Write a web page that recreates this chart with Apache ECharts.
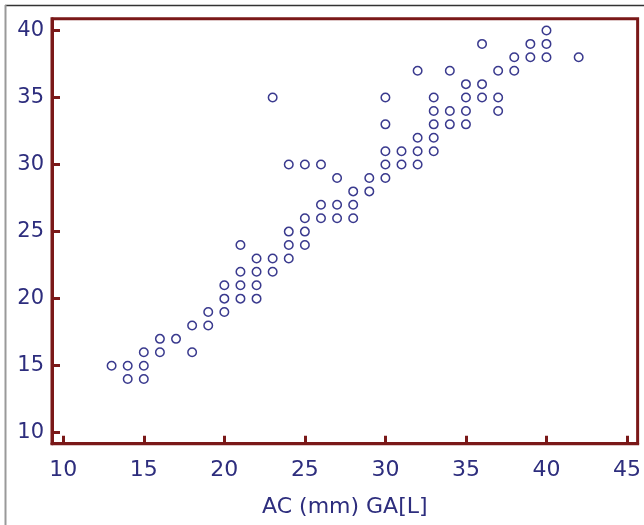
<!DOCTYPE html>
<html>
<head>
<meta charset="utf-8">
<style>
html,body{margin:0;padding:0;background:#fff;}
#chart{width:644px;height:525px;}
</style>
<script src="https://cdn.jsdelivr.net/npm/echarts@6/dist/echarts.min.js"></script>
</head>
<body>
<div id="chart"></div>
<script>
// AC (mm) values
const acValues = [13,14,14,15,15,15,16,16,17,18,18,19,19,20,20,20,
  21,21,21,21,22,22,22,22,23,23,23,24,24,24,24,25,25,25,25,26,26,26,
  27,27,27,28,28,28,29,29,30,30,30,30,30,31,31,32,32,32,32,
  33,33,33,33,33,34,34,34,35,35,35,35,36,36,36,37,37,37,38,38,39,39,40,40,40,42];
// GA[L] values
const gaValues = [15,15,14,16,15,14,17,16,17,18,16,19,18,21,20,19,
  24,22,21,20,23,22,21,20,35,23,22,30,25,24,23,30,26,25,24,30,27,26,
  29,27,26,28,27,26,29,28,35,33,31,30,29,31,30,37,32,31,30,
  35,34,33,32,31,37,34,33,36,35,34,33,39,36,35,37,35,34,38,37,39,38,40,39,38,38];
const xTicks = [10,15,20,25,30,35,40,45];
const yTicks = [10,15,20,25,30,35,40];
const xTitle = 'AC (mm) GA[L]';

const points = acValues.map((v,i)=>[v, gaValues[i]]);
const frame = '#7a1818';
const navy = '#2d2d7d';
const fontFam = '"DejaVu Sans", Verdana, sans-serif';

const chart = echarts.init(document.getElementById('chart'), null, {renderer:'canvas'});
chart.setOption({
  animation:false,
  backgroundColor:'#fff',
  graphic:[
    {type:'line', shape:{x1:5,y1:5.5,x2:644,y2:5.5}, style:{stroke:'#333',lineWidth:1.5}, z:100},
    {type:'line', shape:{x1:5.5,y1:5,x2:5.5,y2:525}, style:{stroke:'#999',lineWidth:2}, z:100}
  ],
  grid:{left:52, right:4.8, top:18.7, bottom:81.3, show:true, borderColor:frame, borderWidth:3, backgroundColor:'transparent'},
  xAxis:{
    type:'value', min:9.3, max:45.66,
    splitLine:{show:false},
    axisLine:{show:true, lineStyle:{color:frame, width:3}},
    axisTick:{show:true, inside:true, length:8, customValues:xTicks, lineStyle:{color:frame, width:3}},
    axisLabel:{customValues:xTicks, color:navy, fontSize:22, fontFamily:fontFam, margin:16},
    name:xTitle, nameLocation:'middle', nameGap:53,
    nameTextStyle:{color:navy, fontSize:22, fontFamily:fontFam}
  },
  yAxis:{
    type:'value', min:9.18, max:40.88,
    splitLine:{show:false},
    axisLine:{show:true, lineStyle:{color:frame, width:3}},
    axisTick:{show:true, inside:true, length:8, customValues:yTicks, lineStyle:{color:frame, width:3}},
    axisLabel:{customValues:yTicks, color:navy, fontSize:21, fontFamily:fontFam, margin:8}
  },
  series:[{
    type:'scatter',
    data:points,
    symbol:'circle',
    symbolSize:8.5,
    itemStyle:{color:'#fff', borderColor:'#3a3a8e', borderWidth:1.5, opacity:1}
  }]
});
</script>
</body>
</html>
